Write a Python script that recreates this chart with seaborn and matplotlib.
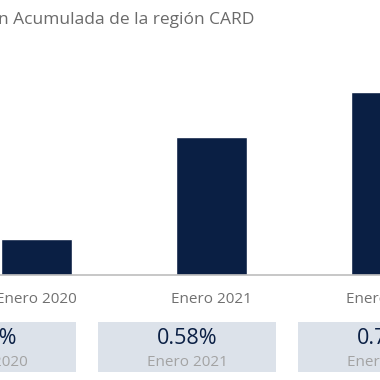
import pandas as pd
import matplotlib.pyplot as plt
import seaborn as sns
from matplotlib.patches import Rectangle

periodos = ['Enero 2020', 'Enero 2021', 'Enero 2022']
inflacion = [0.15, 0.58, 0.77]
etiquetas = ['0.15%', '0.58%', '0.77%']
titulo = 'n Acumulada de la región CARD'

sns.set_style('white')
plt.rcParams['font.family'] = ['Open Sans', 'DejaVu Sans']

data = pd.DataFrame({'Periodo': periodos, 'Inflacion': inflacion})

W = 380
fig = plt.figure(figsize=(3.8, 3.8), dpi=100)

# barras: centro de la primera en x=36.5px, separación 175px
# el eje se extiende fuera de la figura para que la tercera etiqueta se dibuje
ax = fig.add_axes([0, 105 / W, 420 / W, 275 / W])
sns.barplot(x='Periodo', y='Inflacion', data=data, color='#0a1f44',
            width=71 / 175, saturation=1, ax=ax)
ax.set_xlim(-36.5 / 175, (420 - 36.5) / 175)
ax.set_ylim(0, 275 * 0.58 / 138)
for s in ['top', 'right', 'left']:
    ax.spines[s].set_visible(False)
ax.spines['bottom'].set_color('#bdbdbd')
ax.spines['bottom'].set_linewidth(1.2)
ax.set_xlabel('')
ax.set_ylabel('')
ax.set_yticks([])
ax.tick_params(axis='x', length=0, pad=12, labelsize=11, labelcolor='#707070')

# cajas inferiores
bx = fig.add_axes([0, 0, 1, 1], zorder=-1)
bx.set_xlim(0, W)
bx.set_ylim(W, 0)
bx.axis('off')
for i, (p, e) in enumerate(zip(periodos, etiquetas)):
    cx = -13 + 200 * i
    bx.add_patch(Rectangle((cx - 89, 322), 178, 50, color='#dce2ea', lw=0))
    bx.text(cx, 338, e, ha='center', va='center', fontsize=15.5, color='#0a1f44')
    bx.text(cx, 362, p, ha='center', va='center', fontsize=11, color='#a3a3a3')

fig.text(-2 / W, 1 - 20 / W, titulo, ha='left', va='center', fontsize=12.5, color='#6a6a6a')

fig.savefig('out.png', dpi=100)
